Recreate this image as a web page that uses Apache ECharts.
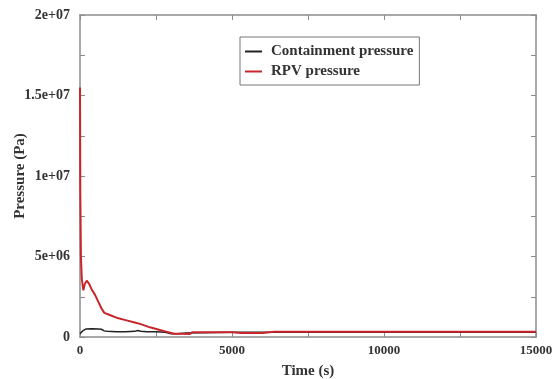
<!DOCTYPE html>
<html>
<head>
<meta charset="utf-8">
<script src="https://cdn.jsdelivr.net/npm/echarts@6/dist/echarts.min.js"></script>
<style>
  html, body { margin: 0; padding: 0; background: #fff; }
  #chart { width: 556px; height: 379px; }
</style>
</head>
<body>
<div id="chart"></div>
<script>
// time (s) and pressure (Pa)
const rpvTime = [0, 10, 30, 60, 110, 160, 220, 300, 400, 500, 600, 700, 800, 1000, 1200, 1500, 1800, 2000, 2300, 2600, 2800, 3000, 3100, 3300, 3600, 3700, 4000, 5000, 5300, 6000, 6400, 7000, 10000, 15000];
const rpvPressure = [15.5e6, 9e6, 5e6, 3.6e6, 2.9e6, 3.3e6, 3.5e6, 3.3e6, 2.9e6, 2.6e6, 2.2e6, 1.8e6, 1.5e6, 1.35e6, 1.2e6, 1.05e6, 0.9e6, 0.8e6, 0.6e6, 0.45e6, 0.35e6, 0.25e6, 0.2e6, 0.2e6, 0.18e6, 0.3e6, 0.3e6, 0.3e6, 0.25e6, 0.25e6, 0.33e6, 0.33e6, 0.33e6, 0.33e6];

const contTime = [0, 50, 100, 150, 200, 400, 600, 700, 800, 900, 1200, 1500, 1800, 1900, 2000, 2200, 2500, 2800, 3000, 3200, 3500, 5000, 10000, 15000];
const contPressure = [0.2e6, 0.3e6, 0.4e6, 0.48e6, 0.5e6, 0.52e6, 0.5e6, 0.48e6, 0.38e6, 0.35e6, 0.33e6, 0.33e6, 0.35e6, 0.4e6, 0.36e6, 0.33e6, 0.33e6, 0.3e6, 0.2e6, 0.2e6, 0.25e6, 0.3e6, 0.3e6, 0.3e6];

const FONT = '"Liberation Serif", "DejaVu Serif", serif';
const axisGray = '#8c8c8c';

function sci(v) {
  if (v === 0) return '0';
  const parts = v.toExponential().split('e');
  const sign = parts[1][0];
  let exp = parts[1].slice(1);
  if (exp.length < 2) exp = '0' + exp;
  return parts[0] + 'e' + sign + exp;
}

const chart = echarts.init(document.getElementById('chart'));

const baseAxis = {
  type: 'value',
  axisLine: { show: true, onZero: false, lineStyle: { color: axisGray, width: 1.5 } },
  axisTick: { show: true, inside: true, length: 5, lineStyle: { color: axisGray } },
  minorTick: { show: true, splitNumber: 2, length: 5, lineStyle: { color: axisGray } },
  splitLine: { show: false }
};

chart.setOption({
  animation: false,
  grid: { left: 80, right: 20, top: 15, bottom: 42, outerBoundsMode: 'none' },
  legend: {
    orient: 'vertical',
    left: 240,
    top: 37,
    padding: [7, 6, 6, 5],
    borderColor: '#777',
    borderWidth: 1,
    itemGap: 5,
    itemWidth: 17,
    itemHeight: 2,
    icon: 'rect',
    textStyle: { fontFamily: FONT, fontSize: 15, fontWeight: 'bold', color: '#333', padding: [0, 0, 0, 4] },
    data: ['Containment pressure', 'RPV pressure']
  },
  xAxis: [
    Object.assign({}, baseAxis, {
      min: 0, max: 15000, interval: 5000,
      name: 'Time (s)',
      nameLocation: 'middle',
      nameGap: 27,
      nameMoveOverlap: false,
      nameTextStyle: { fontFamily: FONT, fontSize: 15, fontWeight: 'bold', color: '#333' },
      axisLabel: { fontFamily: FONT, fontSize: 13, fontWeight: 'bold', color: '#333', margin: 7, formatter: v => String(v) }
    }),
    Object.assign({}, baseAxis, {
      position: 'top',
      min: 0, max: 15000, interval: 5000,
      axisLabel: { show: false }
    })
  ],
  yAxis: [
    Object.assign({}, baseAxis, {
      min: 0, max: 2e7, interval: 5e6,
      name: 'Pressure (Pa)',
      nameLocation: 'middle',
      nameGap: 52,
      nameMoveOverlap: false,
      nameTextStyle: { fontFamily: FONT, fontSize: 15, fontWeight: 'bold', color: '#333' },
      axisLabel: { fontFamily: FONT, fontSize: 14, fontWeight: 'bold', color: '#333', margin: 10, formatter: sci }
    }),
    Object.assign({}, baseAxis, {
      position: 'right',
      min: 0, max: 2e7, interval: 5e6,
      axisLabel: { show: false }
    })
  ],
  series: [
    {
      name: 'Containment pressure',
      type: 'line',
      showSymbol: false,
      color: '#222',
      lineStyle: { color: '#222', width: 1.5 },
      data: contTime.map((t, i) => [t, contPressure[i]])
    },
    {
      name: 'RPV pressure',
      type: 'line',
      showSymbol: false,
      color: '#c9262c',
      lineStyle: { color: '#c9262c', width: 2 },
      data: rpvTime.map((t, i) => [t, rpvPressure[i]])
    }
  ]
});
</script>
</body>
</html>
